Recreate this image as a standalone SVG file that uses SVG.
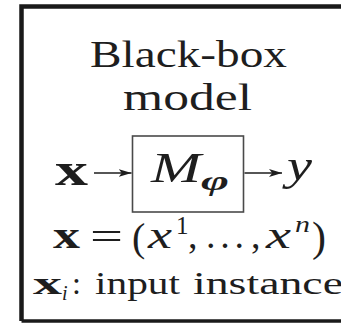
<svg xmlns="http://www.w3.org/2000/svg" width="341" height="323" viewBox="0 0 341 323">
  <style>
    .t { font-family: "Liberation Serif", "Times New Roman", serif; fill: #1e1e1e; }
    .b { font-weight: bold; }
    .i { font-style: italic; }
    .frame { stroke: #1a1a1a; fill: none; }
    .edge { stroke: #1e1e1e; stroke-width: 1.6; fill: none; }
  </style>
  <defs>
    <marker id="ah" viewBox="0 0 10 10" refX="10" refY="5" markerWidth="13" markerHeight="8" markerUnits="userSpaceOnUse" orient="auto" preserveAspectRatio="none">
      <path d="M0,0 L10,5 L0,10 L2.5,5 Z" fill="#1e1e1e"/>
    </marker>
  </defs>
  <rect width="341" height="323" fill="#ffffff"/>
  <g id="frame">
    <path class="frame" d="M345 6.5 H21.5 V321" stroke-width="4.5"/>
    <path class="frame" d="M21.5 321 H345" stroke-width="3.5"/>
  </g>
  <g id="title">
    <text class="t" x="90" y="67" font-size="37" textLength="197" lengthAdjust="spacingAndGlyphs">Black-box</text>
    <text class="t" x="123" y="110" font-size="37" textLength="129" lengthAdjust="spacingAndGlyphs">model</text>
  </g>
  <g id="input">
    <text class="t b" x="55" y="185" font-size="46" textLength="33" lengthAdjust="spacingAndGlyphs">x</text>
  </g>
  <g id="model">
    <rect x="132.5" y="136" width="111" height="76" fill="none" stroke="#4a4a4a" stroke-width="1.6"/>
    <text class="t i" x="151" y="182" font-size="43" textLength="50" lengthAdjust="spacingAndGlyphs">M</text>
    <text class="t i b" x="201" y="190" font-size="28" textLength="28" lengthAdjust="spacingAndGlyphs">φ</text>
  </g>
  <g id="output">
    <text class="t i" x="287" y="180" font-size="44" textLength="25" lengthAdjust="spacingAndGlyphs">y</text>
  </g>
  <g id="connectors">
    <line class="edge" x1="94" y1="173" x2="131.5" y2="173" marker-end="url(#ah)"/>
    <line class="edge" x1="244.5" y1="173" x2="282" y2="173" marker-end="url(#ah)"/>
  </g>
  <g id="definition">
    <text class="t b" x="53" y="248" font-size="38" textLength="27" lengthAdjust="spacingAndGlyphs">x</text>
    <text class="t" x="90" y="250" font-size="40" textLength="33" lengthAdjust="spacingAndGlyphs">=</text>
    <text class="t" x="132" y="251" font-size="40">(</text>
    <text class="t i" x="148" y="248" font-size="38" textLength="24" lengthAdjust="spacingAndGlyphs">x</text>
    <text class="t" x="176" y="234" font-size="25">1</text>
    <text class="t" x="188" y="248" font-size="38">,</text>
    <text class="t" x="206" y="248" font-size="38" textLength="38" lengthAdjust="spacing">...</text>
    <text class="t" x="251" y="248" font-size="38">,</text>
    <text class="t i" x="266" y="248" font-size="38" textLength="25" lengthAdjust="spacingAndGlyphs">x</text>
    <text class="t i" x="295" y="232" font-size="24" textLength="15" lengthAdjust="spacingAndGlyphs">n</text>
    <text class="t" x="312" y="251" font-size="42">)</text>
  </g>
  <g id="legend">
    <text class="t b" x="33" y="294" font-size="32" textLength="29" lengthAdjust="spacingAndGlyphs">x</text>
    <text class="t i" x="62" y="300" font-size="20">i</text>
    <text class="t" x="72" y="294" font-size="32">:</text>
    <text class="t" x="95" y="294" font-size="32" textLength="85" lengthAdjust="spacingAndGlyphs">input</text>
    <text class="t" x="193" y="294" font-size="32" textLength="150" lengthAdjust="spacingAndGlyphs">instance</text>
  </g>
</svg>
